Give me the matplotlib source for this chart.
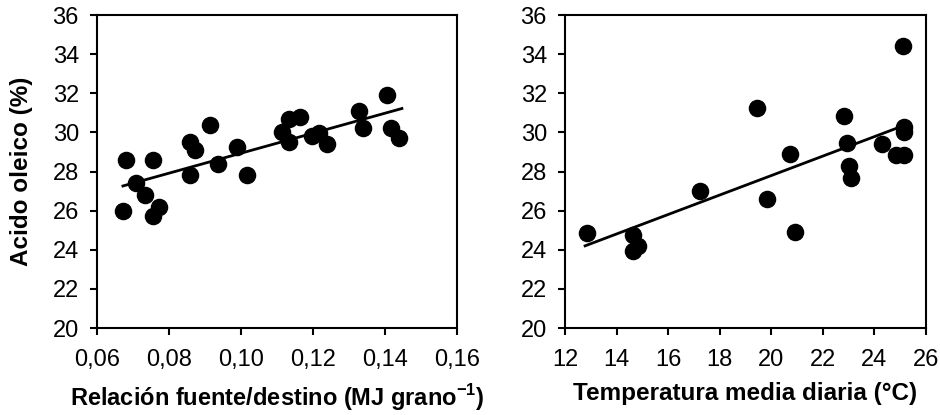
import numpy as np
import matplotlib.pyplot as plt

plt.rcParams['font.family'] = ['Liberation Sans', 'DejaVu Sans']
plt.rcParams['mathtext.fontset'] = 'custom'
plt.rcParams['mathtext.bf'] = 'Liberation Sans:bold'
plt.rcParams['mathtext.rm'] = 'Liberation Sans'

# --- panel izquierdo: relación fuente/destino ---
fd_x = [0.0680, 0.0672, 0.0708, 0.0734, 0.0756, 0.0756, 0.0772, 0.0858, 0.0872,
        0.0858, 0.0915, 0.0937, 0.0990, 0.1018, 0.1113, 0.1132, 0.1164, 0.1132,
        0.1198, 0.1218, 0.1238, 0.1327, 0.1340, 0.1405, 0.1416, 0.1440]
fd_y = [28.6, 26.0, 27.4, 26.8, 28.6, 25.7, 26.2, 29.5, 29.1,
        27.8, 30.4, 28.4, 29.27, 27.8, 30.03, 30.7, 30.8, 29.5,
        29.8, 29.95, 29.4, 31.1, 30.2, 31.9, 30.2, 29.7]
fd_fit_x = [0.0672, 0.1447]
fd_fit_y = [27.26, 31.22]
fd_ticks = [0.06, 0.08, 0.10, 0.12, 0.14, 0.16]
fd_ticklabels = ['0,06', '0,08', '0,10', '0,12', '0,14', '0,16']

# --- panel derecho: temperatura media diaria ---
temp_x = [12.84, 14.65, 14.65, 14.84, 17.24, 19.43, 19.85, 20.73, 20.92, 22.82,
          22.92, 23.03, 23.08, 24.28, 24.84, 25.15, 25.12, 25.15, 25.15]
temp_y = [24.84, 24.76, 23.96, 24.18, 27.02, 31.27, 26.61, 28.89, 24.9, 30.83,
          29.44, 28.3, 27.65, 29.4, 28.84, 28.82, 34.4, 30.25, 30.03]
temp_fit_x = [12.78, 25.18]
temp_fit_y = [24.2, 30.37]
temp_ticks = [12, 14, 16, 18, 20, 22, 24, 26]

y_ticks = [20, 22, 24, 26, 28, 30, 32, 34, 36]

fig = plt.figure(figsize=(9.4, 4.15), dpi=100)
ax1 = fig.add_axes([97/940, 1 - 328/415, 360/940, 313/415])
ax2 = fig.add_axes([565/940, 1 - 328/415, 361/940, 313/415])


def style(ax):
    for s in ax.spines.values():
        s.set_linewidth(1.5)
        s.set_color('black')
    ax.set_ylim(20, 36)
    ax.set_yticks(y_ticks)
    ax.tick_params(direction='out', length=5, width=1.5, labelsize=17)
    ax.tick_params(axis='x', pad=10)
    ax.tick_params(axis='y', pad=8)


ax1.scatter(fd_x, fd_y, s=135, color='black', zorder=3)
ax1.plot(fd_fit_x, fd_fit_y, color='black', lw=2)
ax1.set_xlim(0.06, 0.16)
ax1.set_xticks(fd_ticks)
ax1.set_xticklabels(fd_ticklabels)
style(ax1)
ax1.set_ylabel('Acido oleico (%)', fontsize=17.5, fontweight='bold', labelpad=14)
ax1.set_xlabel(r'Relación fuente/destino (MJ grano$^{\mathbf{-1}}$)',
               fontsize=17, fontweight='bold', labelpad=8)

ax2.scatter(temp_x, temp_y, s=135, color='black', zorder=3)
ax2.plot(temp_fit_x, temp_fit_y, color='black', lw=2)
ax2.set_xlim(12, 26)
ax2.set_xticks(temp_ticks)
style(ax2)
ax2.set_xlabel('Temperatura media diaria (°C)', fontsize=17.5, fontweight='bold', labelpad=8)

fig.savefig('out.png', dpi=100)
